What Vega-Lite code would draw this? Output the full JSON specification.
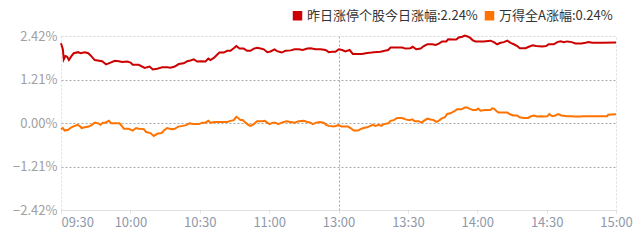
{
  "$schema": "https://vega.github.io/schema/vega-lite/v6.json",
  "width": 555,
  "height": 174,
  "autosize": "none",
  "padding": {"left": 61, "top": 36, "right": 25, "bottom": 36},
  "background": "white",
  "config": {
    "view": {"stroke": "#dddddd", "strokeDash": [2, 2], "strokeWidth": 1},
    "font": "Noto Sans CJK SC"
  },
  "datasets": {
    "red": [
      {"t":0,"v":2.22},{"t":0.8,"v":2.05},{"t":1.2,"v":1.77},{"t":1.9,"v":1.86},{"t":2.7,"v":1.84},{"t":3.4,"v":1.75},{"t":4.5,"v":1.86},{"t":5.5,"v":1.94},{"t":7.4,"v":1.97},{"t":8.4,"v":1.94},{"t":10.3,"v":1.97},{"t":11.8,"v":1.94},{"t":12.8,"v":1.88},{"t":14.6,"v":1.75},{"t":17.8,"v":1.72},{"t":19.5,"v":1.63},{"t":21.4,"v":1.68},{"t":23.3,"v":1.73},{"t":25,"v":1.72},{"t":26.5,"v":1.70},{"t":28.6,"v":1.71},{"t":30.1,"v":1.68},{"t":31,"v":1.62},{"t":33.6,"v":1.62},{"t":36.2,"v":1.53},{"t":38.3,"v":1.57},{"t":39.7,"v":1.49},{"t":41.6,"v":1.51},{"t":43.8,"v":1.55},{"t":45.9,"v":1.55},{"t":47.4,"v":1.54},{"t":49.2,"v":1.57},{"t":50.9,"v":1.64},{"t":53.1,"v":1.66},{"t":54.6,"v":1.72},{"t":56,"v":1.74},{"t":57.4,"v":1.77},{"t":58.9,"v":1.71},{"t":60.3,"v":1.72},{"t":62.5,"v":1.71},{"t":63.7,"v":1.79},{"t":64.6,"v":1.75},{"t":66.1,"v":1.81},{"t":67.5,"v":1.90},{"t":68.5,"v":1.96},{"t":70.4,"v":1.96},{"t":71.9,"v":2.01},{"t":73.3,"v":2.01},{"t":74.7,"v":2.08},{"t":75.8,"v":2.14},{"t":77.2,"v":2.07},{"t":79,"v":2.07},{"t":80.5,"v":2.01},{"t":81.9,"v":2.01},{"t":83.4,"v":2.07},{"t":84.8,"v":2.09},{"t":86.3,"v":2.07},{"t":87.7,"v":2.05},{"t":89.2,"v":1.97},{"t":90.6,"v":1.99},{"t":92.3,"v":2.05},{"t":93.5,"v":2.00},{"t":95.4,"v":1.96},{"t":97.1,"v":2.01},{"t":99.3,"v":2.02},{"t":101.1,"v":2.05},{"t":102.8,"v":2.05},{"t":104.6,"v":2.03},{"t":106.5,"v":2.07},{"t":107.9,"v":2.08},{"t":110.1,"v":2.05},{"t":112.2,"v":2.05},{"t":114.4,"v":2.03},{"t":115.8,"v":1.97},{"t":117.3,"v":1.98},{"t":118.7,"v":1.98},{"t":120.1,"v":2.05},{"t":121.6,"v":2.03},{"t":123,"v":1.99},{"t":124.8,"v":2.03},{"t":126.2,"v":1.92},{"t":128.1,"v":1.92},{"t":130.2,"v":1.92},{"t":131.7,"v":1.94},{"t":134.3,"v":1.96},{"t":135.3,"v":1.97},{"t":138.2,"v":1.98},{"t":140,"v":2.01},{"t":141.5,"v":2.03},{"t":142.5,"v":2.10},{"t":144.6,"v":2.10},{"t":147.5,"v":2.10},{"t":149,"v":2.07},{"t":151.1,"v":2.08},{"t":152.1,"v":2.12},{"t":153.6,"v":2.05},{"t":155.5,"v":2.07},{"t":156.9,"v":2.14},{"t":158.4,"v":2.19},{"t":160.5,"v":2.19},{"t":162,"v":2.17},{"t":163.4,"v":2.21},{"t":164.8,"v":2.27},{"t":166.6,"v":2.27},{"t":167.4,"v":2.33},{"t":169.2,"v":2.32},{"t":170.9,"v":2.32},{"t":172,"v":2.38},{"t":173.5,"v":2.40},{"t":174.6,"v":2.43},{"t":176.1,"v":2.40},{"t":177.1,"v":2.36},{"t":178.1,"v":2.30},{"t":179.2,"v":2.27},{"t":180.7,"v":2.27},{"t":182.8,"v":2.27},{"t":185.7,"v":2.29},{"t":187.2,"v":2.25},{"t":188.6,"v":2.19},{"t":190.1,"v":2.23},{"t":191.5,"v":2.25},{"t":193,"v":2.29},{"t":194.4,"v":2.23},{"t":195.8,"v":2.19},{"t":197.3,"v":2.14},{"t":198.4,"v":2.08},{"t":200.9,"v":2.08},{"t":202.3,"v":2.12},{"t":204,"v":2.16},{"t":205.5,"v":2.14},{"t":208.1,"v":2.13},{"t":209.8,"v":2.14},{"t":210.9,"v":2.19},{"t":213.1,"v":2.19},{"t":214.6,"v":2.25},{"t":216,"v":2.27},{"t":217.4,"v":2.25},{"t":218.9,"v":2.27},{"t":220.8,"v":2.25},{"t":222.5,"v":2.21},{"t":225.1,"v":2.21},{"t":226.8,"v":2.23},{"t":228.2,"v":2.25},{"t":229.7,"v":2.23},{"t":234,"v":2.23},{"t":240,"v":2.24}
    ],
    "wind": [
      {"t":0,"v":-0.17},{"t":0.8,"v":-0.14},{"t":1.6,"v":-0.21},{"t":3.1,"v":-0.19},{"t":4.5,"v":-0.12},{"t":6.0,"v":-0.08},{"t":7.1,"v":-0.05},{"t":8.0,"v":-0.08},{"t":8.9,"v":-0.14},{"t":10.3,"v":-0.12},{"t":12.0,"v":-0.10},{"t":13.2,"v":-0.06},{"t":14.6,"v":0.01},{"t":16.1,"v":-0.01},{"t":17.1,"v":-0.05},{"t":18.1,"v":0.01},{"t":19.2,"v":0.01},{"t":20.7,"v":0.06},{"t":21.8,"v":-0.01},{"t":23.6,"v":-0.01},{"t":25.3,"v":-0.01},{"t":26.5,"v":-0.10},{"t":27.2,"v":-0.16},{"t":29.3,"v":-0.16},{"t":31.0,"v":-0.21},{"t":32.5,"v":-0.14},{"t":33.6,"v":-0.16},{"t":35.8,"v":-0.17},{"t":36.8,"v":-0.25},{"t":38.7,"v":-0.28},{"t":40.1,"v":-0.36},{"t":41.6,"v":-0.30},{"t":43.5,"v":-0.28},{"t":44.5,"v":-0.21},{"t":45.9,"v":-0.14},{"t":47.8,"v":-0.17},{"t":49.2,"v":-0.16},{"t":50.7,"v":-0.10},{"t":52.7,"v":-0.08},{"t":54.1,"v":-0.06},{"t":55.6,"v":-0.01},{"t":57.0,"v":-0.03},{"t":59.6,"v":-0.03},{"t":61.1,"v":0.01},{"t":62.5,"v":0.01},{"t":63.7,"v":0.06},{"t":64.6,"v":0.01},{"t":66.5,"v":0.03},{"t":69.0,"v":0.03},{"t":71.9,"v":0.03},{"t":73.3,"v":0.06},{"t":74.7,"v":0.08},{"t":75.8,"v":0.17},{"t":76.6,"v":0.14},{"t":77.6,"v":0.08},{"t":78.6,"v":0.08},{"t":79.8,"v":0.01},{"t":81.0,"v":-0.05},{"t":81.9,"v":-0.08},{"t":83.4,"v":-0.03},{"t":84.8,"v":0.05},{"t":87.0,"v":0.05},{"t":88.1,"v":0.06},{"t":89.2,"v":0.01},{"t":90.2,"v":-0.03},{"t":91.6,"v":0.01},{"t":92.8,"v":0.01},{"t":93.9,"v":-0.03},{"t":95.4,"v":0.01},{"t":97.4,"v":0.05},{"t":99.2,"v":0.03},{"t":101.1,"v":0.01},{"t":102.8,"v":0.05},{"t":105.0,"v":0.06},{"t":106.5,"v":0.03},{"t":107.9,"v":0.01},{"t":108.9,"v":-0.03},{"t":110.4,"v":0.01},{"t":111.8,"v":0.03},{"t":113.6,"v":0.01},{"t":114.7,"v":-0.05},{"t":115.8,"v":-0.08},{"t":118.0,"v":-0.10},{"t":119.4,"v":-0.07},{"t":120.1,"v":-0.06},{"t":121.3,"v":-0.10},{"t":124.2,"v":-0.10},{"t":125.6,"v":-0.16},{"t":126.6,"v":-0.21},{"t":128.5,"v":-0.21},{"t":129.5,"v":-0.17},{"t":130.9,"v":-0.14},{"t":132.4,"v":-0.12},{"t":133.8,"v":-0.08},{"t":134.8,"v":-0.05},{"t":136.0,"v":-0.08},{"t":137.4,"v":-0.05},{"t":138.6,"v":-0.08},{"t":139.6,"v":-0.03},{"t":141.5,"v":-0.01},{"t":142.5,"v":0.06},{"t":143.9,"v":0.08},{"t":145.4,"v":0.14},{"t":147.5,"v":0.14},{"t":149.0,"v":0.10},{"t":150.7,"v":0.08},{"t":151.9,"v":0.10},{"t":153.0,"v":0.05},{"t":154.7,"v":0.05},{"t":155.9,"v":0.01},{"t":156.9,"v":0.06},{"t":158.4,"v":0.12},{"t":159.8,"v":0.10},{"t":161.2,"v":0.08},{"t":162.3,"v":0.03},{"t":163.1,"v":0.05},{"t":164.5,"v":0.12},{"t":166.0,"v":0.16},{"t":167.0,"v":0.25},{"t":168.4,"v":0.27},{"t":169.9,"v":0.32},{"t":171.3,"v":0.38},{"t":173.2,"v":0.38},{"t":174.6,"v":0.43},{"t":175.7,"v":0.43},{"t":176.6,"v":0.40},{"t":178.1,"v":0.36},{"t":179.5,"v":0.36},{"t":180.4,"v":0.40},{"t":181.4,"v":0.34},{"t":183.3,"v":0.36},{"t":185.7,"v":0.36},{"t":186.5,"v":0.41},{"t":187.2,"v":0.40},{"t":188.2,"v":0.34},{"t":189.1,"v":0.29},{"t":190.8,"v":0.29},{"t":193.0,"v":0.29},{"t":194.0,"v":0.25},{"t":195.4,"v":0.21},{"t":197.3,"v":0.21},{"t":198.3,"v":0.16},{"t":200.1,"v":0.14},{"t":202.0,"v":0.14},{"t":203.0,"v":0.18},{"t":204.5,"v":0.21},{"t":205.9,"v":0.18},{"t":207.4,"v":0.19},{"t":208.8,"v":0.18},{"t":210.3,"v":0.19},{"t":211.2,"v":0.25},{"t":212.4,"v":0.19},{"t":213.8,"v":0.21},{"t":215.0,"v":0.25},{"t":216.4,"v":0.21},{"t":218.9,"v":0.19},{"t":221.1,"v":0.19},{"t":221.8,"v":0.18},{"t":225.1,"v":0.18},{"t":225.6,"v":0.19},{"t":236.2,"v":0.19},{"t":236.6,"v":0.23},{"t":240,"v":0.24}
    ],
    "legend": [
      {"s": "昨日涨停个股今日涨幅", "t": 0, "v": 0},
      {"s": "万得全A涨幅", "t": 0, "v": 0}
    ]
  },
  "encoding": {
    "x": {
      "field": "t", "type": "quantitative",
      "scale": {"domain": [0, 240], "nice": false, "zero": false},
      "axis": {
        "title": null,
        "values": [0, 30, 60, 90, 120, 150, 180, 210, 240],
        "labelExpr": "['09:30','10:00','10:30','11:00','13:00','13:30','14:00','14:30','15:00'][round(datum.value / 30)]",
        "labelAlign": {"expr": "datum.value == 0 ? 'left' : 'center'"},
        "labelColor": "#8f99aa",
        "labelFontSize": 13,
        "labelFont": "Noto Sans CJK SC",
        "labelPadding": 3,
        "labelBound": false,
        "labelOverlap": false,
        "domain": false,
        "ticks": true,
        "tickSize": 3,
        "tickColor": "#cccccc",
        "tickDash": [1, 1],
        "grid": true,
        "gridColor": {"condition": {"test": "datum.value == 120", "value": "#aaaaaa"}, "value": "rgba(0,0,0,0)"},
        "gridDash": [2, 2]
      }
    },
    "y": {
      "field": "v", "type": "quantitative",
      "scale": {"domain": [-2.42, 2.42], "nice": false, "zero": false},
      "axis": {
        "title": null,
        "values": [-2.42, -1.21, 0, 1.21, 2.42],
        "labelExpr": "format(datum.value, '.2f') + '%'",
        "labelColor": "#a0a0a0",
        "labelFontSize": 13,
        "labelFont": "Noto Sans CJK SC",
        "labelPadding": 4,
        "domain": false,
        "ticks": false,
        "grid": true,
        "gridColor": {"condition": {"test": "abs(datum.value) > 2", "value": "#dddddd"}, "value": "#aaaaaa"},
        "gridDash": [2, 2]
      }
    }
  },
  "layer": [
    {
      "data": {"name": "red"},
      "mark": {"type": "line", "strokeWidth": 2, "color": "#cc0000", "clip": false},
      "encoding": {"x": {"field": "t", "type": "quantitative"}, "y": {"field": "v", "type": "quantitative"}}
    },
    {
      "data": {"name": "wind"},
      "mark": {"type": "line", "strokeWidth": 2, "color": "#ff7300", "clip": false},
      "encoding": {"x": {"field": "t", "type": "quantitative"}, "y": {"field": "v", "type": "quantitative"}}
    },
    {
      "data": {"name": "legend"},
      "mark": {"type": "square", "filled": true, "size": 0},
      "encoding": {
        "color": {
          "field": "s", "type": "nominal",
          "scale": {"domain": ["昨日涨停个股今日涨幅", "万得全A涨幅"], "range": ["#cc0000", "#ff7300"]},
          "legend": {
            "title": null,
            "orient": "none",
            "legendX": 230,
            "legendY": -27,
            "direction": "horizontal",
            "symbolType": "square",
            "symbolSize": 90,
            "symbolOpacity": 1,
            "symbolStrokeWidth": 0,
            "labelFontSize": 13,
            "labelFont": "Noto Sans CJK SC",
            "labelColor": "#333333",
            "labelOffset": 3,
            "columnPadding": 5,
            "labelLimit": 300,
            "labelExpr": "datum.label == '万得全A涨幅' ? '万得全A涨幅:0.24%' : '昨日涨停个股今日涨幅:2.24%'"
          }
        }
      }
    }
  ]
}
